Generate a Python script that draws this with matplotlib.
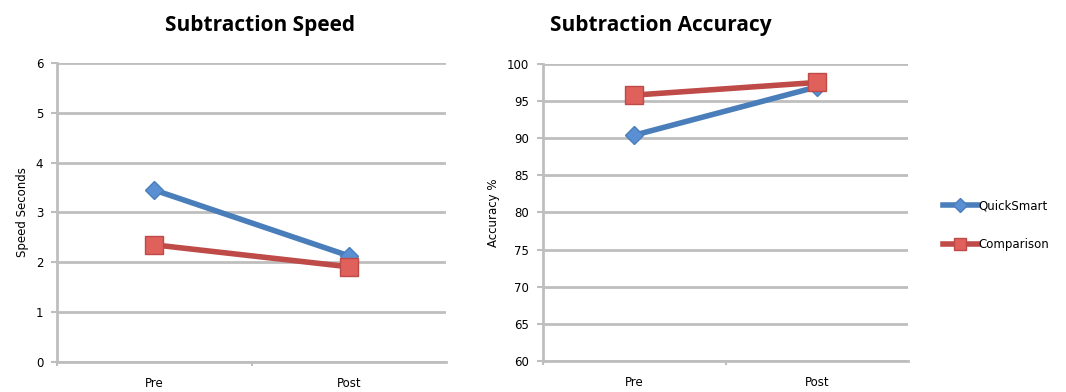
import matplotlib.pyplot as plt
from matplotlib.lines import Line2D

# survey results, pre vs post
phases = ["Pre", "Post"]
speed_quicksmart = [3.45, 2.13]
speed_comparison = [2.35, 1.91]
acc_quicksmart = [90.4, 96.9]
acc_comparison = [95.8, 97.5]
series_names = ["QuickSmart", "Comparison"]

BLUE = "#4A7EBB"
BLUE_FILL = "#5B8FD3"
RED = "#BE4B48"
RED_FILL = "#E0605C"
GRID = "#BEBEBE"

plt.rcParams["font.family"] = ["DejaVu Sans"]

fig = plt.figure(figsize=(10.66, 3.92), dpi=100)
ax1 = fig.add_axes([0.0535, 0.0765, 0.365, 0.763])
ax2 = fig.add_axes([0.5094, 0.079, 0.3424, 0.758])

xpos = list(range(len(phases)))


def style_axis(ax, ylim, yticks, ylabel):
    ax.set_xlim(-0.5, 1.5)
    ax.set_ylim(*ylim)
    ax.set_yticks(yticks)
    # category boundaries get the tick marks, names sit between them
    ax.set_xticks([-0.5, 0.5])
    ax.set_xticklabels([])
    ax.set_xticks(xpos, minor=True)
    ax.set_xticklabels(phases, minor=True)
    ax.tick_params(axis="x", which="minor", length=0, pad=11, labelsize=8.5)
    ax.tick_params(axis="x", which="major", length=3, width=1.5, color=GRID)
    ax.tick_params(axis="y", length=4, width=1.5, color=GRID, labelsize=8.5, pad=6)
    ax.grid(axis="y", color=GRID, linewidth=2)
    ax.set_axisbelow(True)
    for side in ("top", "right"):
        ax.spines[side].set_visible(False)
    for side in ("left", "bottom"):
        ax.spines[side].set_color(GRID)
        ax.spines[side].set_linewidth(2)
    ax.set_ylabel(ylabel, fontsize=8.5, labelpad=5)


def draw_series(ax, qs, comp):
    ax.plot(xpos, qs, color=BLUE, linewidth=4, marker="D",
            markersize=9, markerfacecolor=BLUE_FILL, markeredgecolor=BLUE,
            markeredgewidth=1, zorder=3, clip_on=False)
    ax.plot(xpos, comp, color=RED, linewidth=4, marker="s",
            markersize=13, markerfacecolor=RED_FILL, markeredgecolor=RED,
            markeredgewidth=1, zorder=4, clip_on=False)


style_axis(ax1, (0, 6), range(0, 7), "Speed Seconds")
draw_series(ax1, speed_quicksmart, speed_comparison)

style_axis(ax2, (60, 100), range(60, 101, 5), "Accuracy %")
draw_series(ax2, acc_quicksmart, acc_comparison)

fig.text(260 / 1066, 1 - 25 / 392, "Subtraction Speed", ha="center", va="center",
         fontsize=15, fontweight="bold", family="Open Sans")
fig.text(661 / 1066, 1 - 25 / 392, "Subtraction Accuracy", ha="center", va="center",
         fontsize=15, fontweight="bold", family="Open Sans")

handles = [
    Line2D([], [], color=BLUE, linewidth=4, marker="D", markersize=7,
           markerfacecolor=BLUE_FILL, markeredgecolor=BLUE),
    Line2D([], [], color=RED, linewidth=4, marker="s", markersize=9,
           markerfacecolor=RED_FILL, markeredgecolor=RED),
]
fig.legend(handles, series_names, loc="center left",
           bbox_to_anchor=(932 / 1066, 1 - 225 / 392), frameon=False,
           fontsize=8.5, handlelength=3.0, handletextpad=0.05, labelspacing=2.2)

fig.savefig("out.png", dpi=100)
